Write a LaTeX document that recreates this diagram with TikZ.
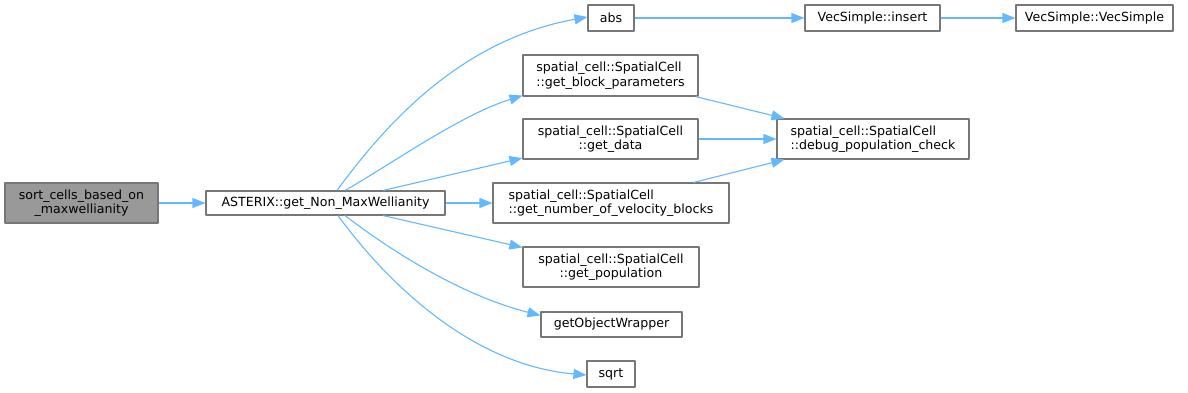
\documentclass[tikz,border=0pt]{standalone}
\usepackage{fontspec}
\setmainfont{DejaVu Sans}
\usetikzlibrary{arrows.meta}

\definecolor{edgeblue}{HTML}{63B8FF}
\definecolor{rootgray}{HTML}{999999}
\definecolor{framegray}{HTML}{777777}

\begin{document}
\begin{tikzpicture}[x=1pt, y=-1pt, >={Triangle[length=13pt,width=10pt]}, line join=round,
    fn/.style={draw=framegray, line width=1.1pt, fill=white, inner sep=0pt, text=black,
        font=\fontsize{12.6}{14.5}\selectfont},
    call/.style={->, edgeblue, line width=1.1pt}]
    \useasboundingbox (0,0) rectangle (1188,392);

    % 起点函数
    \node[fn, fill=rootgray, minimum width=153pt, minimum height=40pt, align=center] (sort) at (81.5,203)
        {sort\_cells\_based\_on\\\_maxwellianity};
    \node[fn, minimum width=239pt, minimum height=24pt] (ast) at (325.5,203)
        {ASTERIX::get\_Non\_MaxWellianity};

    % 第二层 (被 ASTERIX 调用)
    \node[fn, minimum width=46pt, minimum height=26pt] (abs) at (611,18) {abs};
    \node[fn, minimum width=175pt, minimum height=41pt, align=left] (blk) at (610.5,75.5)
        {spatial\_cell::SpatialCell\\::get\_block\_parameters};
    \node[fn, minimum width=175pt, minimum height=40pt, align=center] (dat) at (610.5,139)
        {spatial\_cell::SpatialCell\\::get\_data};
    \node[fn, minimum width=236pt, minimum height=40pt, align=left] (nvb) at (611,203)
        {spatial\_cell::SpatialCell\\::get\_number\_of\_velocity\_blocks};
    \node[fn, minimum width=176pt, minimum height=40pt, align=center] (pop) at (611,267)
        {spatial\_cell::SpatialCell\\::get\_population};
    \node[fn, minimum width=141pt, minimum height=25pt] (obj) at (611.5,324.5) {getObjectWrapper};
    \node[fn, minimum width=48pt, minimum height=26pt] (sq) at (611,374) {sqrt};

    % 第三层
    \node[fn, minimum width=135pt, minimum height=26pt] (ins) at (872.5,18) {VecSimple::insert};
    \node[fn, minimum width=157pt, minimum height=26pt] (vec) at (1094.5,18) {VecSimple::VecSimple};
    \node[fn, minimum width=192pt, minimum height=40pt, align=left] (dbg) at (873,139)
        {spatial\_cell::SpatialCell\\::debug\_population\_check};

    % 调用关系
    \draw[call] (sort) -- (ast);
    \draw[call] ([xshift=11.5pt]ast.north) .. controls (385,125) and (460,40) .. ([yshift=1pt]abs.west);
    \draw[call] ([xshift=19.5pt]ast.north) .. controls (390,165) and (460,115) .. ([yshift=1pt]blk.south west);
    \draw[call] ([xshift=57.5pt]ast.north) -- ([yshift=1.5pt]dat.south west);
    \draw[call] (ast) -- (nvb);
    \draw[call] ([xshift=57.5pt]ast.south) -- ([yshift=-1pt]pop.north west);
    \draw[call] ([xshift=19.5pt]ast.south) .. controls (390,250) and (460,295) .. ([yshift=-4pt]obj.north west);
    \draw[call] ([xshift=12.5pt]ast.south) .. controls (385,280) and (470,365) .. ([yshift=-1pt]sq.west);

    \draw[call] (abs) -- (ins);
    \draw[call] (ins) -- (vec);

    \draw[call] ([xshift=-3pt]blk.south east) -- ([xshift=8pt]dbg.north west);
    \draw[call] (dat) -- (dbg);
    \draw[call] ([xshift=-36pt]nvb.north east) -- ([xshift=8pt]dbg.south west);
\end{tikzpicture}
\end{document}
